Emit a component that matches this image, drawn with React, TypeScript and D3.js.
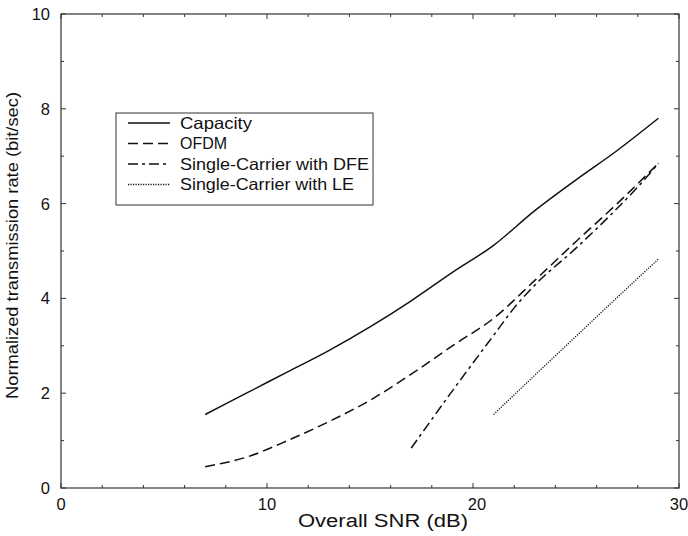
import React from "react";
import * as d3 from "d3";

type Pt = [number, number];

const capacity: Pt[] = [
  [7, 1.55], [9, 2.0], [11, 2.45], [13, 2.9], [15, 3.4], [17, 3.95],
  [19, 4.55], [21, 5.12], [23, 5.85], [25, 6.5], [27, 7.12], [29, 7.8],
];
const ofdm: Pt[] = [
  [7, 0.45], [9, 0.65], [11, 1.0], [13, 1.4], [15, 1.85], [17, 2.4],
  [19, 3.0], [21, 3.58], [23, 4.38], [25, 5.2], [27, 6.0], [29, 6.85],
];
const dfe: Pt[] = [
  [17, 0.84], [19, 2.05], [21, 3.22], [22, 3.8], [23, 4.28], [25, 5.06],
  [27, 5.9], [28, 6.35], [29, 6.85],
];
const le: Pt[] = [[21, 1.55], [23, 2.38], [25, 3.2], [27, 4.02], [29, 4.83]];

const seriesNames = ["Capacity", "OFDM", "Single-Carrier with DFE", "Single-Carrier with LE"];
const seriesData = [capacity, ofdm, dfe, le];
const dashes = ["none", "10,5", "10,4,3,4", "1.2,1.3"];
const legendWidths = [72, 47, 189, 174];

const xTicks = [0, 10, 20, 30];
const yTicks = [0, 2, 4, 6, 8, 10];

const W = 688;
const H = 536;
const m = { left: 61, right: 9, top: 14, bottom: 48 };

export default function App() {
  const x = d3.scaleLinear().domain([0, 30]).range([m.left, W - m.right]);
  const y = d3.scaleLinear().domain([0, 10]).range([H - m.bottom, m.top]);
  const line = d3.line<Pt>().x((d) => x(d[0])).y((d) => y(d[1])).curve(d3.curveMonotoneX);
  const font = "'Liberation Sans', Arial, sans-serif";
  const axisColor = "#333";

  const xMinor = d3.range(0, 31, 2);
  const yMinor = d3.range(0, 11, 1);

  const lx = 116, ly = 113, lw = 257, lh = 92;

  return (
    <svg width={W} height={H} style={{ position: "absolute", left: 0, top: 0 }} fontFamily={font}>
      <rect x={0} y={0} width={W} height={H} fill="#fff" />
      <rect x={x(0)} y={y(10)} width={x(30) - x(0)} height={y(0) - y(10)} fill="none" stroke={axisColor} strokeWidth={1.2} />
      {xMinor.map((t) => (
        <g key={"xt" + t} stroke={axisColor} strokeWidth={1}>
          <line x1={x(t)} x2={x(t)} y1={y(0)} y2={y(0) - (t % 10 === 0 ? 5 : 3)} />
          <line x1={x(t)} x2={x(t)} y1={y(10)} y2={y(10) + (t % 10 === 0 ? 5 : 3)} />
        </g>
      ))}
      {yMinor.map((t) => (
        <g key={"yt" + t} stroke={axisColor} strokeWidth={1}>
          <line x1={x(0)} x2={x(0) + (t % 2 === 0 ? 5 : 3)} y1={y(t)} y2={y(t)} />
          <line x1={x(30)} x2={x(30) - (t % 2 === 0 ? 5 : 3)} y1={y(t)} y2={y(t)} />
        </g>
      ))}
      {xTicks.map((t) => (
        <text key={"xl" + t} x={x(t) + (t === 20 ? 4 : 0)} y={y(0) + 22} fontSize={16.5} textAnchor="middle" fill="#111">{t}</text>
      ))}
      {yTicks.map((t) => (
        <text key={"yl" + t} x={x(0) - 11} y={y(t) + 6} fontSize={16.5} textAnchor="end" fill="#111">{t}</text>
      ))}
      <text x={298} y={527} fontSize={18} textLength={170} lengthAdjust="spacingAndGlyphs" fill="#111">Overall SNR (dB)</text>
      <text transform="translate(18,399) rotate(-90)" fontSize={17} textLength={307} lengthAdjust="spacingAndGlyphs" fill="#111">
        Normalized transmission rate (bit/sec)
      </text>
      {seriesData.map((s, i) => (
        <path key={"s" + i} d={line(s) || ""} fill="none" stroke="#111" strokeWidth={i === 3 ? 1.3 : 1.5} strokeDasharray={dashes[i]} />
      ))}
      <rect x={lx} y={ly} width={lw} height={lh} fill="#fff" stroke={axisColor} strokeWidth={1} />
      {seriesNames.map((n, i) => (
        <g key={"lg" + i}>
          <line x1={lx + 12} x2={lx + 54} y1={ly + 10 + i * 20.5} y2={ly + 10 + i * 20.5} stroke="#111" strokeWidth={i === 3 ? 1.3 : 1.5} strokeDasharray={dashes[i]} />
          <text x={lx + 64} y={ly + 15.5 + i * 20.5} fontSize={16.5} textLength={legendWidths[i]} lengthAdjust="spacingAndGlyphs" fill="#111">{n}</text>
        </g>
      ))}
    </svg>
  );
}
